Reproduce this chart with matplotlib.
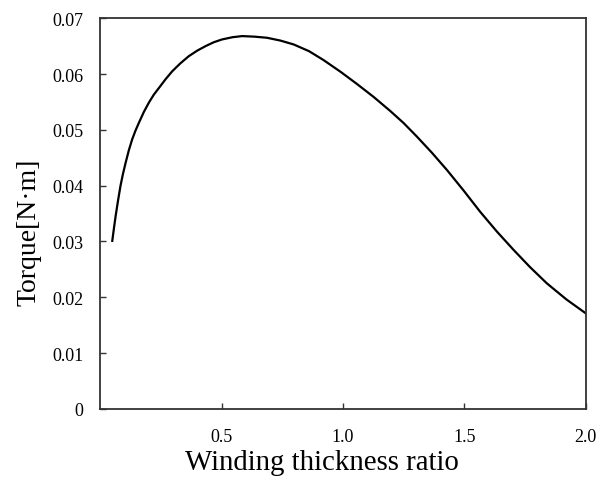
import matplotlib
matplotlib.use("Agg")
import matplotlib.pyplot as plt

ratio = [0.050, 0.057, 0.064, 0.074, 0.084, 0.094, 0.105, 0.118, 0.132, 0.146, 0.160, 0.180,
         0.201, 0.221, 0.242, 0.270, 0.297, 0.330, 0.365, 0.400, 0.434, 0.468, 0.502, 0.545,
         0.585, 0.635, 0.687, 0.742, 0.797, 0.860, 0.920, 0.990, 1.058, 1.126, 1.194, 1.250,
         1.304, 1.366, 1.428, 1.497, 1.565, 1.633, 1.702, 1.770, 1.839, 1.920, 2.000]
torque = [0.0301, 0.0324, 0.0346, 0.0374, 0.0400, 0.0421, 0.0441, 0.0463, 0.0483, 0.0499, 0.0513, 0.0532,
          0.0549, 0.0563, 0.0575, 0.0591, 0.0605, 0.0619, 0.0632, 0.0642, 0.0650, 0.0657, 0.0662, 0.0666,
          0.0668, 0.0667, 0.0665, 0.0660, 0.0653, 0.0641, 0.0625, 0.0604, 0.0582, 0.0559, 0.0534, 0.0512,
          0.0488, 0.0459, 0.0428, 0.0391, 0.0353, 0.0318, 0.0285, 0.0254, 0.0225, 0.0196, 0.0171]
xticks = [0.5, 1.0, 1.5, 2.0]
xticklabels = ["0.5", "1.0", "1.5", "2.0"]
yticks = [0, 0.01, 0.02, 0.03, 0.04, 0.05, 0.06, 0.07]
yticklabels = ["0", "0.01", "0.02", "0.03", "0.04", "0.05", "0.06", "0.07"]

plt.rcParams['font.family'] = ['Liberation Serif', 'DejaVu Serif']

fig = plt.figure(figsize=(5.96, 4.81), dpi=100)
ax = fig.add_axes([0.168, 0.148, 0.815, 0.812])

ax.plot(ratio, torque, color='black', lw=1.6, solid_joinstyle='round', antialiased=True)

ax.set_xlim(0, 2.0)
ax.set_ylim(0, 0.07)
ax.set_xticks(xticks)
ax.set_xticklabels(xticklabels)
ax.set_yticks(yticks)
ax.set_yticklabels(yticklabels)
ax.tick_params(direction='in', length=4, width=1, colors='#333333', labelcolor='black', labelsize=13)
ax.tick_params(axis='x', pad=14)
ax.tick_params(axis='y', pad=12)
for s in ax.spines.values():
    s.set_linewidth(1.3)
    s.set_color('#333333')
ax.set_xlabel("Winding thickness ratio", fontsize=20.8)
ax.set_ylabel("Torque[N·m]", fontsize=20)
ax.xaxis.set_label_coords(0.457, -0.102)
ax.yaxis.set_label_coords(-0.12, 0.455)

fig.savefig("out.png", dpi=100)
